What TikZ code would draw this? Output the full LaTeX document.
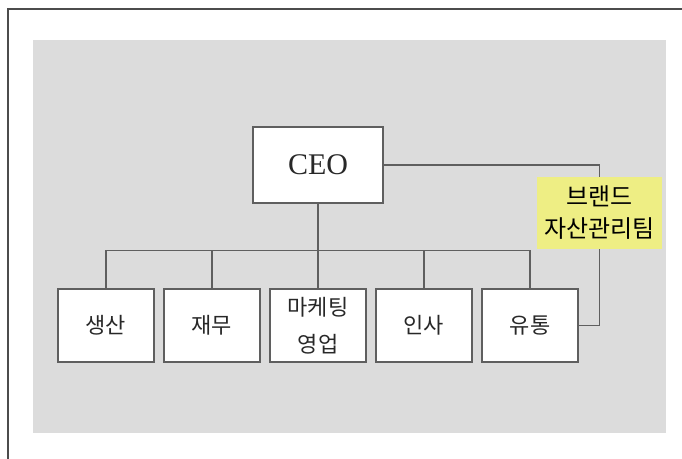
\documentclass[tikz,border=0pt]{standalone}
\usepackage{fontspec}
\setmainfont{Liberation Serif}
\newfontfamily\krfont{Noto Sans CJK KR}
\usepackage{tikz}
\usetikzlibrary{trees}
\definecolor{panelgray}{RGB}{220,220,220}
\definecolor{boxline}{RGB}{95,95,95}
\definecolor{brandyellow}{RGB}{238,238,132}
\definecolor{textgray}{RGB}{40,40,40}

\begin{document}
\begin{tikzpicture}[x=0.5pt,y=-0.5pt,
    unit/.style={draw=boxline, fill=white, line width=0.6pt, text=textgray,
      minimum width=48pt, minimum height=36.5pt, inner sep=1pt, align=center,
      font=\krfont\fontsize{11}{18.5}\selectfont},
    ceobox/.style={unit, minimum width=65pt, minimum height=38pt,
      font=\fontsize{15}{17}\selectfont},
    brandbox/.style={fill=brandyellow, text=black, minimum width=62.5pt,
      minimum height=36pt, inner sep=0pt, align=center,
      font=\krfont\fontsize{12}{16}\selectfont},
    link/.style={draw=boxline, line width=0.6pt}]
    \useasboundingbox (0,0) rectangle (682,459);
    \fill[panelgray] (33,40) rectangle (666,433);
    \draw[line width=0.9pt, color=black!70] (8,459) -- (8,9) -- (682,9);
        \node[ceobox] (ceo) at (318,165) {CEO}
            [grow=down, level distance=80.25pt, sibling distance=53pt,
             edge from parent/.style={link},
             edge from parent path={(\tikzparentnode.south) -- ++(0,-23.5pt) -| (\tikzchildnode.north)}]
            child {node[unit] (prod) {생산}}
            child {node[unit] (fin) {재무}}
            child {node[unit] (mkt) {마케팅\\영업}}
            child {node[unit] (hr) {인사}}
            child {node[unit] (dist) {유통}};
    \node[brandbox] (brand) at (599.5,213) {브랜드\\자산관리팀};
    \draw[link] (ceo.east) -| (brand.north);
    \draw[link] (brand.south) |- (dist.east);
    \end{tikzpicture}
\end{document}
